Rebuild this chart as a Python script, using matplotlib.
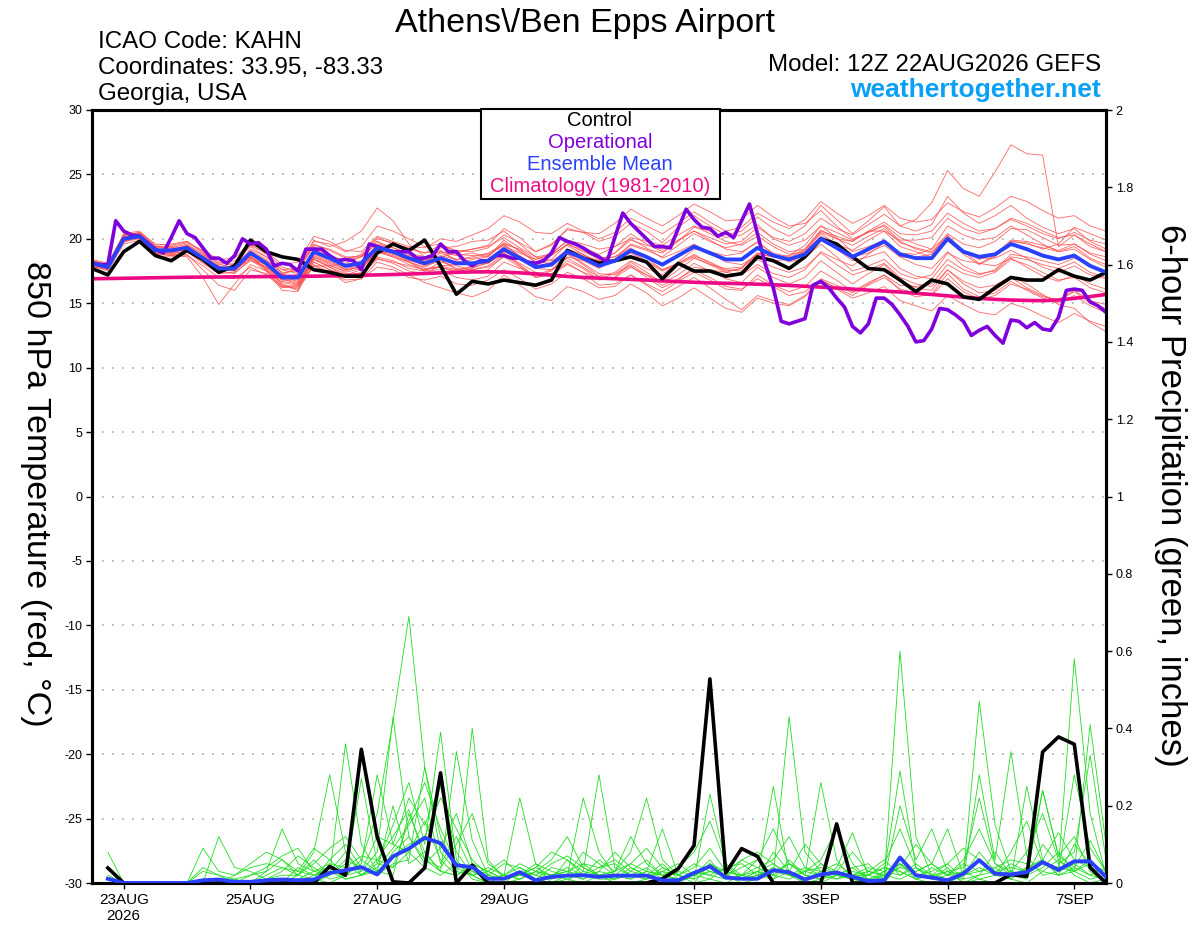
import datetime as dt
import numpy as np
import matplotlib
matplotlib.use("Agg")
from matplotlib import pyplot as plt
from matplotlib.patches import Rectangle

plt.rcParams['font.family'] = ['Liberation Sans', 'DejaVu Sans']
plt.rcParams['axes.unicode_minus'] = False

# ---------------- data ----------------
run_time = dt.datetime(2026, 8, 22, 12)
tick_dates = [dt.datetime(2026, 8, 23), dt.datetime(2026, 8, 25), dt.datetime(2026, 8, 27),
              dt.datetime(2026, 8, 29), dt.datetime(2026, 9, 1), dt.datetime(2026, 9, 3),
              dt.datetime(2026, 9, 5), dt.datetime(2026, 9, 7)]
tick_labels = ['23AUG\n2026', '25AUG', '27AUG', '29AUG', '1SEP', '3SEP', '5SEP', '7SEP']

# 850 hPa temperature, every 6 h from 12Z 22AUG (65 values)
control_t = [17.7, 17.2, 19.0, 19.8, 18.7, 18.3, 19.1, 18.4, 17.4, 17.9,
             19.9, 19.0, 18.6, 18.4, 17.6, 17.4, 17.1, 17.1, 18.9, 19.6,
             19.1, 19.9, 17.9, 15.7, 16.7, 16.5, 16.8, 16.6, 16.4, 16.8,
             19.1, 18.5, 18.1, 18.3, 18.6, 18.2, 16.9, 18.1, 17.5, 17.5,
             17.1, 17.3, 18.6, 18.3, 17.7, 18.6, 20.0, 19.6, 18.6, 17.7,
             17.6, 16.8, 15.9, 16.8, 16.5, 15.5, 15.3, 16.2, 17.0, 16.8,
             16.8, 17.6, 17.1, 16.8, 17.4]

mean_t = [18.1, 17.8, 20.0, 20.2, 19.1, 19.1, 19.3, 18.5, 17.7, 17.7,
          18.9, 18.1, 17.0, 17.0, 19.0, 18.5, 17.9, 18.1, 19.3, 19.0,
          18.5, 18.1, 18.5, 18.1, 18.1, 18.3, 19.2, 18.5, 17.8, 18.0,
          19.0, 18.5, 17.9, 18.3, 19.1, 18.6, 18.0, 18.7, 19.4, 18.9,
          18.4, 18.4, 19.3, 18.7, 18.4, 18.8, 20.0, 19.3, 18.6, 19.2,
          19.8, 18.8, 18.5, 18.5, 20.0, 19.0, 18.6, 18.8, 19.6, 19.2,
          18.7, 18.4, 18.7, 17.9, 17.4]

clim_t = [16.90, 16.92, 16.94, 16.96, 16.98, 17.00, 17.02, 17.03, 17.04, 17.05,
          17.06, 17.07, 17.08, 17.09, 17.10, 17.12, 17.14, 17.17, 17.20, 17.23,
          17.27, 17.31, 17.36, 17.40, 17.43, 17.44, 17.42, 17.36, 17.28, 17.18,
          17.08, 17.00, 16.95, 16.90, 16.85, 16.80, 16.74, 16.68, 16.63, 16.58,
          16.55, 16.52, 16.48, 16.44, 16.38, 16.32, 16.25, 16.18, 16.10, 16.02,
          15.95, 15.87, 15.78, 15.68, 15.58, 15.47, 15.38, 15.30, 15.25, 15.22,
          15.20, 15.25, 15.38, 15.52, 15.68]

# operational run, every 3 h (129 values)
oper_t = [18.1, 18.0, 18.0, 21.4, 20.6, 20.3, 20.2, 19.7, 19.2, 18.9,
          20.1, 21.4, 20.4, 20.1, 19.3, 18.5, 18.5, 18.1, 18.7, 20.0,
          19.6, 19.7, 19.2, 17.9, 18.1, 18.0, 17.5, 19.2, 19.2, 19.2,
          18.7, 18.3, 18.4, 18.3, 17.6, 19.6, 19.4, 19.2, 19.0, 19.0,
          19.0, 18.5, 18.5, 18.7, 19.6, 19.0, 19.0, 18.3, 17.9, 18.3,
          18.3, 18.7, 18.7, 18.5, 18.5, 18.2, 18.1, 18.3, 18.9, 20.1,
          19.8, 19.6, 19.3, 18.9, 18.6, 18.2, 20.1, 22.0, 21.2, 20.6,
          20.0, 19.4, 19.4, 19.3, 20.8, 22.3, 21.5, 20.9, 20.8, 20.2,
          20.5, 20.1, 21.4, 22.7, 20.4, 18.0, 16.2, 13.6, 13.4, 13.6,
          13.8, 16.4, 16.7, 16.2, 15.4, 14.7, 13.2, 12.7, 13.4, 15.4,
          15.4, 14.9, 14.1, 13.2, 12.0, 12.1, 13.0, 14.6, 14.5, 14.1,
          13.6, 12.5, 12.9, 13.2, 12.5, 11.9, 13.7, 13.6, 13.1, 13.5,
          13.0, 12.9, 13.9, 16.0, 16.1, 16.0, 15.1, 14.8, 14.3]

temp_members = [
    [18.3, 18.0, 20.4, 20.6, 19.5, 19.6, 19.8, 19.0, 18.2, 18.0, 19.5, 18.9, 17.8, 17.5, 19.8,
     19.6, 19.0, 19.4, 21.0, 20.6, 20.0, 19.4, 19.6, 19.0, 19.2, 19.5, 20.8, 20.1, 19.0, 19.6,
     20.7, 20.5, 19.8, 20.2, 21.2, 20.6, 19.7, 20.9, 21.8, 21.0, 20.3, 20.6, 21.7, 20.8, 20.2,
     21.0, 22.6, 21.5, 20.4, 21.4, 22.5, 21.0, 20.6, 21.1, 23.3, 22.0, 21.2, 21.8, 22.6, 21.6,
     20.9, 20.4, 20.8, 19.8, 19.2],
    [17.9, 17.5, 19.6, 19.9, 18.6, 18.6, 18.7, 17.9, 17.0, 16.9, 17.8, 17.2, 16.2, 16.4, 17.9,
     17.3, 16.8, 16.9, 17.8, 17.6, 17.0, 16.8, 17.1, 16.5, 16.4, 16.8, 17.6, 16.9, 16.1, 16.5,
     17.4, 16.9, 16.2, 16.3, 17.2, 16.5, 15.9, 16.7, 17.4, 16.8, 16.1, 16.0, 17.2, 16.4, 15.9,
     16.3, 17.5, 16.8, 15.9, 16.6, 17.2, 16.0, 15.5, 15.7, 17.3, 16.1, 15.5, 15.8, 16.7, 16.0,
     15.4, 15.0, 15.6, 14.8, 14.3],
    [18.0, 17.9, 20.2, 20.3, 19.2, 19.0, 19.4, 18.6, 17.9, 17.6, 19.1, 18.4, 17.3, 17.6, 19.4,
     18.7, 18.3, 18.6, 19.8, 19.3, 18.8, 18.2, 18.9, 18.4, 18.6, 18.9, 19.6, 19.2, 18.4, 18.9,
     19.8, 19.3, 18.8, 19.4, 20.4, 19.6, 19.0, 19.9, 20.6, 20.1, 19.6, 19.8, 20.9, 20.1, 19.8,
     20.4, 21.6, 20.8, 20.3, 21.1, 21.9, 21.0, 21.5, 22.8, 25.3, 23.9, 23.3, 25.2, 27.3, 26.6,
     26.5, 19.4, 20.3, 19.6, 19.0],
    [18.2, 17.6, 19.8, 20.0, 18.9, 18.8, 18.6, 17.0, 14.9, 16.5, 18.0, 17.5, 16.6, 16.4, 18.6,
     18.0, 17.4, 17.7, 19.0, 18.6, 18.2, 17.8, 18.4, 17.6, 17.4, 17.6, 18.7, 18.0, 17.0, 17.2,
     18.3, 17.7, 16.8, 17.0, 18.2, 17.4, 16.6, 17.2, 18.1, 17.5, 16.9, 16.6, 17.8, 17.0, 16.5,
     17.0, 18.3, 17.4, 16.5, 17.3, 18.0, 16.8, 16.2, 16.0, 17.6, 16.5, 15.8, 16.0, 17.0, 16.2,
     15.6, 15.2, 15.9, 15.0, 14.6],
    [18.4, 18.1, 20.3, 20.4, 19.4, 19.3, 19.1, 18.3, 17.6, 17.9, 18.5, 18.0, 17.2, 17.8, 19.9,
     19.4, 19.8, 20.6, 22.4, 21.4, 19.6, 18.6, 19.0, 18.7, 18.9, 18.6, 19.9, 19.0, 18.2, 18.7,
     19.6, 19.1, 18.4, 18.6, 19.5, 19.1, 18.6, 19.5, 20.4, 19.8, 19.3, 19.6, 20.5, 19.6, 19.0,
     19.2, 20.7, 20.0, 19.8, 20.6, 20.6, 19.4, 19.0, 18.6, 19.9, 18.8, 18.0, 18.6, 19.8, 19.7,
     19.2, 19.6, 20.9, 20.4, 19.9],
    [17.8, 17.7, 19.9, 20.1, 19.0, 18.9, 19.2, 18.6, 17.9, 17.5, 18.6, 17.6, 16.8, 16.7, 18.5,
     17.8, 17.1, 17.4, 18.6, 18.3, 17.7, 17.5, 18.2, 17.9, 17.6, 17.9, 18.8, 18.1, 17.4, 17.2,
     18.0, 17.4, 16.9, 17.3, 18.0, 17.2, 16.4, 16.9, 17.6, 17.0, 16.3, 16.1, 16.9, 16.3, 15.6,
     15.9, 16.8, 16.1, 15.4, 15.8, 16.3, 15.2, 14.8, 14.4, 15.6, 14.9, 14.3, 14.1, 15.0, 14.6,
     14.0, 13.5, 14.2, 13.6, 13.2],
    [18.0, 17.9, 20.1, 20.0, 19.0, 19.3, 19.6, 18.8, 17.8, 17.8, 18.7, 17.6, 16.0, 15.9, 18.8,
     18.3, 17.6, 17.8, 19.1, 18.8, 18.3, 18.0, 18.6, 18.9, 19.2, 19.4, 20.1, 19.3, 18.6, 18.8,
     19.5, 18.8, 18.0, 18.2, 18.9, 18.2, 17.5, 18.0, 18.6, 18.0, 17.4, 17.2, 18.0, 17.3, 17.0,
     17.6, 19.0, 18.4, 17.9, 18.8, 19.7, 18.9, 18.8, 19.2, 21.0, 20.3, 19.9, 20.1, 21.0, 20.3,
     19.6, 19.0, 19.2, 18.4, 17.8],
    [18.3, 17.8, 19.7, 20.3, 19.3, 19.4, 19.0, 18.2, 17.4, 17.9, 19.2, 18.6, 17.6, 17.3, 19.1,
     18.6, 18.3, 18.8, 20.1, 19.6, 19.3, 18.9, 19.1, 18.3, 18.0, 18.1, 18.9, 17.9, 17.1, 17.5,
     18.6, 18.3, 17.7, 18.4, 19.6, 19.2, 18.9, 19.8, 20.9, 20.6, 20.1, 20.3, 21.1, 20.0, 19.5,
     19.9, 21.0, 20.1, 19.0, 19.4, 19.9, 18.6, 18.0, 17.7, 19.0, 17.9, 17.3, 17.5, 18.6, 18.4,
     18.0, 17.7, 18.2, 17.4, 17.0],
    [17.9, 17.6, 20.0, 20.4, 19.2, 19.0, 19.5, 18.8, 18.1, 17.6, 18.4, 17.5, 16.3, 16.2, 18.2,
     17.6, 17.0, 17.2, 18.4, 18.2, 17.9, 17.6, 17.8, 17.4, 17.7, 18.2, 19.0, 18.6, 18.0, 18.4,
     19.6, 19.0, 18.5, 18.6, 19.3, 18.5, 17.6, 18.1, 18.8, 18.1, 17.5, 17.7, 18.8, 18.6, 18.5,
     19.1, 20.5, 20.0, 19.5, 20.2, 20.8, 19.7, 19.3, 19.0, 20.2, 19.1, 18.5, 18.5, 19.1, 18.5,
     17.8, 17.4, 17.9, 17.2, 16.9],
    [18.2, 18.0, 20.2, 20.0, 18.9, 18.9, 19.3, 18.7, 17.8, 18.1, 19.6, 18.8, 17.3, 16.6, 18.4,
     17.8, 17.3, 17.3, 18.5, 18.1, 17.5, 17.3, 17.9, 18.0, 18.4, 18.6, 19.7, 19.1, 18.2, 18.1,
     18.8, 18.0, 17.1, 17.4, 18.3, 17.7, 17.2, 18.2, 19.2, 19.0, 18.7, 18.9, 19.8, 18.8, 18.2,
     18.5, 19.6, 18.6, 17.5, 17.9, 18.4, 17.3, 16.9, 17.2, 18.9, 18.3, 18.1, 18.7, 19.8, 19.6,
     19.3, 19.0, 19.4, 18.5, 18.0],
    [18.1, 17.9, 20.0, 20.5, 19.6, 19.5, 19.8, 18.9, 18.0, 18.3, 19.4, 18.6, 17.6, 17.7, 19.6,
     19.1, 18.5, 18.7, 20.0, 19.7, 19.2, 18.9, 19.5, 19.1, 19.0, 19.3, 20.3, 19.7, 19.0, 19.5,
     20.8, 20.5, 20.4, 21.2, 22.3, 21.6, 21.0, 21.8, 22.7, 22.1, 21.4, 21.5, 22.6, 21.7, 21.0,
     21.2, 22.2, 21.0, 20.0, 20.5, 21.0, 19.8, 19.2, 18.9, 20.1, 19.0, 18.4, 18.8, 19.9, 19.8,
     19.5, 19.1, 19.6, 18.9, 18.6],
    [18.0, 17.7, 19.8, 20.1, 18.8, 18.7, 19.0, 18.1, 17.3, 17.4, 18.3, 17.8, 16.9, 16.5, 18.2,
     17.6, 17.2, 17.6, 19.0, 18.9, 18.6, 18.3, 18.7, 18.4, 18.5, 18.7, 19.6, 18.6, 17.7, 17.6,
     18.5, 17.8, 17.0, 17.0, 17.8, 17.2, 16.7, 17.6, 18.5, 18.0, 17.7, 17.8, 18.9, 18.6, 18.4,
     18.9, 20.2, 19.6, 19.1, 19.9, 20.6, 19.9, 19.9, 20.1, 21.6, 20.8, 20.4, 20.8, 21.6, 21.2,
     20.6, 20.1, 20.3, 19.4, 19.0],
    [18.3, 18.0, 20.1, 20.2, 19.0, 19.2, 19.5, 18.6, 17.7, 17.5, 18.8, 18.2, 17.1, 17.0, 19.2,
     18.7, 18.0, 18.3, 19.5, 19.1, 18.4, 17.9, 18.3, 17.7, 17.6, 17.8, 18.6, 17.8, 17.0, 17.3,
     18.1, 17.4, 16.4, 16.5, 17.2, 16.4, 15.6, 16.3, 17.0, 16.2, 15.3, 14.5, 15.6, 15.2, 14.9,
     15.6, 16.9, 16.4, 15.8, 16.5, 17.2, 16.4, 16.3, 16.5, 18.0, 17.3, 17.0, 17.4, 18.4, 18.0,
     17.4, 16.8, 17.0, 16.2, 15.8],
    [17.9, 17.8, 20.2, 20.3, 19.1, 19.1, 19.2, 18.4, 17.5, 17.9, 19.0, 18.3, 17.4, 17.5, 19.5,
     19.2, 18.6, 18.6, 19.6, 19.3, 18.9, 18.6, 19.0, 18.8, 18.7, 18.8, 19.5, 18.7, 17.9, 18.1,
     19.1, 18.7, 18.3, 18.9, 19.9, 19.5, 19.2, 19.9, 20.6, 19.9, 19.2, 19.0, 19.7, 18.9, 18.6,
     19.2, 20.6, 20.2, 19.8, 20.6, 21.3, 20.4, 20.3, 20.6, 22.0, 21.2, 20.6, 20.8, 21.5, 21.0,
     20.4, 20.0, 20.5, 19.9, 19.6],
    [18.1, 17.6, 19.9, 20.1, 19.0, 18.9, 19.0, 18.3, 17.5, 17.3, 18.4, 17.8, 16.9, 16.8, 18.7,
     18.2, 17.7, 17.9, 19.0, 18.6, 18.0, 17.6, 17.9, 17.6, 17.8, 18.1, 19.0, 18.4, 17.7, 18.2,
     19.2, 18.8, 18.2, 18.4, 19.0, 18.3, 17.6, 18.1, 18.7, 18.2, 17.6, 17.5, 18.4, 17.8, 17.4,
     17.8, 18.9, 18.0, 17.2, 17.6, 18.1, 17.0, 16.5, 16.3, 17.6, 16.7, 16.2, 16.4, 17.1, 16.5,
     15.7, 14.9, 14.6, 13.5, 12.8],
    [18.2, 17.9, 20.3, 20.4, 19.3, 19.2, 19.4, 18.5, 17.8, 17.8, 18.9, 18.0, 16.7, 16.5, 18.6,
     18.1, 17.6, 17.8, 19.0, 18.7, 18.2, 17.7, 17.8, 17.5, 17.9, 18.4, 19.4, 18.9, 18.4, 18.8,
     19.9, 19.6, 19.2, 19.4, 20.0, 19.3, 18.5, 19.0, 19.6, 18.9, 18.2, 18.0, 18.7, 18.3, 18.4,
     19.0, 20.4, 19.6, 18.6, 18.9, 19.5, 18.6, 18.6, 18.8, 20.4, 19.6, 19.3, 19.8, 20.8, 20.7,
     20.1, 19.5, 19.6, 18.8, 18.3],
    [18.0, 17.7, 19.9, 20.2, 19.0, 18.8, 19.1, 18.4, 17.6, 17.7, 18.6, 17.9, 16.5, 16.0, 18.0,
     17.4, 16.6, 16.9, 18.2, 17.8, 17.2, 16.6, 16.2, 15.8, 15.5, 16.0, 17.2, 16.4, 15.5, 15.2,
     16.3, 15.9, 15.3, 15.6, 16.5, 15.8, 14.8, 15.4, 16.2, 15.4, 14.6, 14.3, 15.4, 15.0, 14.8,
     15.5, 16.8, 16.2, 15.6, 16.4, 17.0, 16.1, 15.8, 15.6, 16.9, 15.9, 15.3, 15.6, 16.5, 16.1,
     15.5, 15.3, 16.0, 15.2, 14.9],
    [18.2, 18.0, 20.3, 20.5, 19.4, 19.4, 19.7, 19.1, 18.4, 18.5, 19.7, 19.0, 18.0, 18.2, 20.2,
     19.8, 19.1, 19.0, 20.2, 19.8, 19.4, 19.3, 20.0, 19.8, 20.3, 20.8, 21.8, 21.3, 20.5, 20.4,
     21.2, 20.6, 20.0, 20.5, 21.6, 21.0, 20.4, 21.2, 22.1, 21.3, 20.6, 20.9, 22.0, 21.3, 20.8,
     21.5, 22.9, 22.0, 21.2, 21.8, 22.6, 21.6, 21.3, 21.5, 22.8, 22.1, 21.7, 22.4, 23.3, 22.9,
     22.2, 21.6, 21.8, 21.0, 20.6],
    [18.1, 17.8, 20.1, 20.3, 19.2, 19.0, 19.3, 18.5, 17.6, 17.5, 18.6, 17.7, 16.4, 16.3, 18.4,
     17.9, 17.5, 17.9, 19.3, 19.1, 18.7, 18.5, 19.3, 19.4, 19.8, 19.9, 20.6, 19.6, 18.6, 18.3,
     18.9, 18.1, 17.3, 17.2, 17.9, 17.0, 16.2, 16.8, 17.8, 17.6, 17.4, 17.7, 18.9, 18.6, 18.7,
     19.5, 21.0, 20.5, 19.9, 20.5, 21.1, 20.1, 19.6, 19.2, 20.3, 19.0, 18.1, 17.9, 18.5, 17.8,
     17.1, 16.7, 17.2, 16.5, 16.1],
    [18.3, 17.9, 20.0, 20.1, 18.9, 18.7, 18.8, 17.6, 16.4, 16.0, 17.6, 17.3, 16.3, 16.1, 17.9,
     17.9, 18.1, 18.6, 19.8, 19.0, 18.2, 17.5, 17.6, 17.0, 16.8, 17.1, 18.2, 17.7, 17.2, 17.6,
     18.8, 18.6, 18.3, 18.9, 20.1, 19.8, 19.5, 20.3, 21.0, 20.4, 19.8, 19.5, 20.2, 19.4, 18.8,
     19.0, 20.1, 19.2, 18.3, 18.6, 19.0, 17.7, 17.1, 16.9, 18.4, 17.6, 17.2, 17.6, 18.8, 18.6,
     18.3, 18.0, 18.5, 17.9, 17.5],
]

# 6-hour precipitation (inches), every 6 h from 18Z 22AUG (64 values)
control_p = [0.039, 0, 0, 0, 0, 0, 0, 0, 0, 0, 0, 0, 0, 0, 0.043, 0.02,
             0.346, 0.119, 0.003, 0, 0.039, 0.285, 0, 0.046, 0, 0, 0, 0, 0, 0, 0, 0,
             0, 0, 0, 0.011, 0.037, 0.097, 0.528, 0.026, 0.089, 0.069, 0, 0, 0, 0, 0.153, 0,
             0, 0, 0, 0, 0, 0, 0, 0, 0, 0.022, 0.017, 0.339, 0.378, 0.359, 0.04, 0]

mean_p = [0.011, 0, 0, 0, 0, 0, 0.007, 0.009, 0.003, 0.003, 0.007, 0.009, 0.007, 0.009, 0.026, 0.033,
          0.041, 0.022, 0.069, 0.089, 0.117, 0.103, 0.046, 0.041, 0.011, 0.011, 0.028, 0.007, 0.016, 0.019, 0.02, 0.016,
          0.019, 0.019, 0.019, 0.007, 0.007, 0.026, 0.043, 0.014, 0.011, 0.011, 0.033, 0.028, 0.009, 0.022, 0.027, 0.016,
          0.005, 0.007, 0.066, 0.02, 0.014, 0.007, 0.024, 0.059, 0.024, 0.022, 0.028, 0.054, 0.034, 0.056, 0.056, 0.016]

precip_members = [
    [0.08, 0, 0, 0, 0, 0, 0, 0, 0, 0, 0, 0, 0.02, 0.05, 0.09, 0.12,
     0.06, 0.18, 0.42, 0.69, 0.30, 0.12, 0.04, 0.02, 0, 0, 0.03, 0.01, 0, 0, 0.05, 0.02,
     0, 0, 0.01, 0.03, 0, 0, 0.05, 0.02, 0, 0.01, 0.08, 0.03, 0, 0, 0.02, 0.04,
     0.01, 0, 0.05, 0.01, 0, 0, 0.02, 0.08, 0.03, 0.01, 0, 0.03, 0.06, 0.02, 0, 0.01],
    [0, 0, 0, 0, 0, 0, 0.09, 0.03, 0.02, 0.04, 0.05, 0.04, 0.02, 0.08, 0.28, 0.08,
     0.02, 0.05, 0.15, 0.26, 0.10, 0.39, 0.06, 0.01, 0, 0.02, 0.22, 0.05, 0, 0.01, 0.03, 0.02,
     0.01, 0.02, 0.04, 0.01, 0, 0.02, 0.06, 0.01, 0.02, 0.03, 0.01, 0.06, 0.02, 0.26, 0.06, 0.01,
     0, 0.02, 0.05, 0.02, 0.01, 0.04, 0, 0.02, 0.08, 0.02, 0.01, 0.24, 0.07, 0.12, 0.03, 0],
    [0, 0, 0, 0, 0, 0, 0, 0.12, 0.04, 0.03, 0.01, 0.02, 0.02, 0.06, 0.02, 0.36,
     0.10, 0.03, 0.02, 0.18, 0.08, 0.03, 0.34, 0.11, 0.02, 0.05, 0.04, 0.01, 0, 0.02, 0.22, 0.08,
     0.02, 0.01, 0.03, 0.14, 0.02, 0, 0.01, 0, 0.02, 0.01, 0.25, 0.02, 0, 0.01, 0.04, 0.13,
     0.02, 0.01, 0.60, 0.12, 0.02, 0.03, 0, 0.01, 0.02, 0.01, 0.04, 0.06, 0.02, 0.03, 0.41, 0.10],
    [0.02, 0, 0, 0, 0, 0, 0.03, 0.02, 0, 0.02, 0.03, 0.14, 0.05, 0.03, 0.04, 0.02,
     0.27, 0.05, 0.04, 0.08, 0.16, 0.06, 0.02, 0.40, 0.06, 0.01, 0.03, 0.02, 0.01, 0.06, 0.03, 0.28,
     0.04, 0.02, 0.01, 0.03, 0.02, 0.01, 0.23, 0.05, 0.01, 0.03, 0.02, 0.01, 0.03, 0.04, 0.02, 0.01,
     0, 0.03, 0.29, 0.04, 0.01, 0.02, 0.03, 0.01, 0, 0.02, 0.03, 0.05, 0.04, 0.58, 0.18, 0.02],
    [0, 0, 0, 0, 0, 0, 0, 0, 0.02, 0.05, 0.08, 0.06, 0.03, 0.09, 0.06, 0.02,
     0.05, 0.28, 0.10, 0.22, 0.15, 0.25, 0.08, 0.02, 0, 0, 0.01, 0.03, 0.02, 0.01, 0, 0.02,
     0.03, 0.08, 0.22, 0.06, 0.02, 0.01, 0.03, 0.02, 0.04, 0.06, 0.02, 0.43, 0.08, 0.03, 0.02, 0.04,
     0.05, 0.01, 0.20, 0.06, 0.14, 0.03, 0.02, 0.47, 0.15, 0.03, 0.02, 0.10, 0.05, 0.08, 0.33, 0.06],
    [0, 0, 0, 0, 0, 0, 0.04, 0.02, 0.01, 0, 0.01, 0.03, 0.07, 0.04, 0.01, 0.02,
     0.03, 0.08, 0.43, 0.12, 0.05, 0.09, 0.18, 0.05, 0.03, 0.06, 0.02, 0.01, 0.04, 0.03, 0.01, 0.03,
     0.08, 0.04, 0.02, 0.01, 0.03, 0.02, 0.01, 0.04, 0.05, 0.02, 0.01, 0.03, 0.10, 0.05, 0.02, 0.01,
     0.02, 0.04, 0.03, 0.01, 0.02, 0.05, 0.01, 0.28, 0.06, 0.34, 0.07, 0.02, 0.03, 0.05, 0.02, 0.04],
    [0, 0, 0, 0, 0, 0, 0, 0, 0, 0, 0, 0, 0.01, 0.03, 0.02, 0.05,
     0.02, 0.04, 0.09, 0.15, 0.22, 0.05, 0.12, 0.03, 0.01, 0.02, 0.04, 0.02, 0.05, 0.07, 0.04, 0.02,
     0.03, 0.05, 0.03, 0.02, 0.01, 0.03, 0.02, 0.01, 0.06, 0.04, 0.02, 0.05, 0.03, 0.06, 0.14, 0.05,
     0.01, 0.02, 0.04, 0.03, 0.05, 0.14, 0.02, 0.03, 0.04, 0.01, 0.25, 0.06, 0.02, 0.04, 0.11, 0.03],
    [0, 0, 0, 0, 0, 0, 0, 0, 0.01, 0.02, 0.04, 0.07, 0.09, 0.03, 0.05, 0.04,
     0.07, 0.06, 0.12, 0.19, 0.06, 0.03, 0.02, 0.05, 0.03, 0.01, 0.02, 0.05, 0.03, 0.02, 0.08, 0.05,
     0.02, 0.05, 0.09, 0.04, 0.02, 0.04, 0.09, 0.03, 0.02, 0.01, 0.03, 0.02, 0.01, 0.05, 0.03, 0.02,
     0.04, 0.03, 0.05, 0.02, 0.03, 0.05, 0.09, 0.06, 0.02, 0.05, 0.03, 0.24, 0.07, 0.04, 0.02, 0.01],
    [0, 0, 0, 0, 0, 0, 0, 0, 0, 0, 0.02, 0.04, 0.03, 0.02, 0.03, 0.01,
     0.02, 0.03, 0.07, 0.10, 0.12, 0.22, 0.14, 0.06, 0.02, 0.01, 0.03, 0.01, 0.02, 0.03, 0.05, 0.04,
     0.06, 0.03, 0.02, 0.05, 0.01, 0.02, 0.04, 0.03, 0.06, 0.08, 0.05, 0.02, 0.04, 0.03, 0.01, 0.02,
     0.03, 0.06, 0.02, 0.04, 0.01, 0.03, 0.04, 0.22, 0.05, 0.02, 0.04, 0.06, 0.13, 0.06, 0.04, 0.02],
    [0, 0, 0, 0, 0, 0, 0, 0, 0, 0, 0, 0, 0, 0, 0.02, 0.06,
     0.04, 0.02, 0.05, 0.06, 0.30, 0.08, 0.03, 0.02, 0.04, 0.02, 0.01, 0.03, 0.02, 0.04, 0.02, 0.01,
     0.01, 0.04, 0.02, 0.03, 0.05, 0.02, 0.03, 0.02, 0.01, 0.02, 0.04, 0.02, 0.01, 0.03, 0.05, 0.02,
     0.01, 0.03, 0.02, 0.05, 0.02, 0.01, 0.02, 0.04, 0.02, 0.03, 0.02, 0.04, 0.08, 0.03, 0.01, 0.02],
    [0, 0, 0, 0, 0, 0, 0, 0, 0, 0, 0, 0, 0.04, 0.02, 0.03, 0.08,
     0.03, 0.12, 0.10, 0.08, 0.04, 0.02, 0.05, 0.02, 0.03, 0.01, 0.02, 0.04, 0.08, 0.06, 0.02, 0.04,
     0.05, 0.02, 0.01, 0.04, 0.02, 0.05, 0.03, 0.02, 0.01, 0.03, 0.05, 0.02, 0.03, 0.02, 0.01, 0.03,
     0.02, 0.04, 0.03, 0.01, 0.04, 0.02, 0.05, 0.03, 0.04, 0.06, 0.05, 0.03, 0.02, 0.10, 0.05, 0.03],
    [0, 0, 0, 0, 0, 0, 0, 0, 0, 0, 0, 0, 0, 0.01, 0, 0.02,
     0.06, 0.03, 0.20, 0.05, 0.08, 0.03, 0.02, 0.04, 0.01, 0.02, 0.05, 0.03, 0.01, 0.02, 0.01, 0.03,
     0.02, 0.01, 0.03, 0.02, 0.01, 0.03, 0.02, 0.04, 0.01, 0.02, 0.03, 0.05, 0.02, 0.01, 0.02, 0.01,
     0.03, 0.02, 0.01, 0.03, 0.05, 0.02, 0.01, 0.02, 0.03, 0.04, 0.03, 0.05, 0.04, 0.03, 0.06, 0.02],
    [0, 0, 0, 0, 0, 0, 0, 0, 0, 0, 0.03, 0.06, 0.02, 0.01, 0.06, 0.10,
     0.04, 0.02, 0.08, 0.12, 0.06, 0.04, 0.10, 0.18, 0.05, 0.02, 0.01, 0.03, 0.06, 0.12, 0.04, 0.02,
     0.01, 0.03, 0.06, 0.02, 0.04, 0.08, 0.16, 0.05, 0.02, 0.04, 0.06, 0.12, 0.04, 0.02, 0.03, 0.08,
     0.03, 0.02, 0.04, 0.10, 0.05, 0.02, 0.06, 0.14, 0.05, 0.03, 0.08, 0.18, 0.06, 0.03, 0.05, 0.02],
    [0, 0, 0, 0, 0, 0, 0, 0, 0, 0, 0, 0, 0, 0.02, 0.04, 0.01,
     0.02, 0.06, 0.04, 0.16, 0.26, 0.14, 0.05, 0.03, 0.02, 0.01, 0.02, 0.04, 0.02, 0.03, 0.02, 0.06,
     0.03, 0.12, 0.05, 0.02, 0.01, 0.02, 0.05, 0.03, 0.02, 0.06, 0.14, 0.05, 0.02, 0.01, 0.03, 0.02,
     0.02, 0.05, 0.14, 0.04, 0.02, 0.01, 0.03, 0.06, 0.02, 0.08, 0.16, 0.05, 0.03, 0.28, 0.09, 0.03],
]

# ---------------- figure ----------------
W, H = 1200, 927
hours_t = np.arange(len(control_t)) * 6
hours_p = (np.arange(len(control_p)) + 1) * 6
hours_op = np.arange(len(oper_t)) * 3
tick_hours = [(d - run_time).total_seconds() / 3600 for d in tick_dates]


def fx(x):
    return x / W


def fy(y):
    return 1 - y / H


fig = plt.figure(figsize=(12, 9.27), dpi=100)
ax = fig.add_axes([fx(92), fy(883), fx(1106) - fx(92), fy(110) - fy(883)])
ax2 = ax.twinx()

for m in temp_members:
    ax.plot(hours_t, m, color='#ff4a4a', lw=0.6, alpha=0.85, zorder=1)
ax.plot(hours_t, clim_t, color='#ee0a84', lw=2.6, zorder=3)
ax.plot(hours_t, control_t, color='black', lw=2.6, zorder=4)
ax.plot(hours_op, oper_t, color='#8000dc', lw=2.6, zorder=5)
ax.plot(hours_t, mean_t, color='#2a40ff', lw=2.8, zorder=6)

for m in precip_members:
    ax2.plot(hours_p, m, color='#22dd22', lw=0.6, zorder=1)
ax2.plot(hours_p, control_p, color='black', lw=2.6, zorder=4)
ax2.plot(hours_p, mean_p, color='#2a40ff', lw=2.8, zorder=6)

ax.set_xlim(0, 384)
ax.set_ylim(-30, 30)
ax2.set_ylim(0, 2)
ax.set_yticks(np.arange(-30, 31, 5))
ax2.set_yticks(np.arange(0, 2.01, 0.2))
ax2.set_yticklabels(['%g' % round(v, 1) for v in np.arange(0, 2.01, 0.2)])
ax.set_xticks(tick_hours)
ax.set_xticklabels(tick_labels, fontsize=11)
ax.tick_params(axis='y', labelsize=9, length=4, width=1, pad=3)
ax2.tick_params(axis='y', labelsize=9, length=4, width=1, pad=3)
ax.tick_params(axis='x', length=4, width=1, pad=3)
ax.yaxis.grid(True, color='#aaaaaa', linestyle=(0, (1, 5)), lw=1.2)
for a in (ax, ax2):
    for s in a.spines.values():
        s.set_linewidth(2.2)

# header texts
fig.text(fx(585), fy(32), 'Athens\\/Ben Epps Airport', fontsize=24.5, ha='center', va='baseline')
fig.text(fx(98), fy(48), 'ICAO Code: KAHN', fontsize=17.4, ha='left', va='baseline')
fig.text(fx(98), fy(74), 'Coordinates: 33.95, -83.33', fontsize=17.4, ha='left', va='baseline')
fig.text(fx(98), fy(100), 'Georgia, USA', fontsize=17.4, ha='left', va='baseline')
fig.text(fx(1101), fy(71), 'Model: 12Z 22AUG2026 GEFS', fontsize=17.4, ha='right', va='baseline')
fig.text(fx(1101), fy(97), 'weathertogether.net', fontsize=19, fontweight='bold',
         color='#0aa0f5', ha='right', va='baseline')

# axis labels
fig.text(fx(35), fy(494), '850 hPa Temperature (red, °C)', fontsize=24.5,
         rotation=270, ha='center', va='center')
fig.text(fx(1170), fy(495), '6-hour Precipitation (green, inches)', fontsize=25,
         rotation=270, ha='center', va='center')

# legend box
box = Rectangle((fx(481), fy(199)), fx(720) - fx(481), fy(109) - fy(199),
                transform=fig.transFigure, facecolor='white', edgecolor='black',
                lw=1.5, zorder=10)
fig.patches.append(box)
legend_items = [('Control', 'black'), ('Operational', '#8000dc'),
                ('Ensemble Mean', '#2a40ff'), ('Climatology (1981-2010)', '#ee0a84')]
for k, (txt, col) in enumerate(legend_items):
    fig.text(fx(600), fy(121 + 21.7 * k), txt, color=col, fontsize=14.5,
             ha='center', va='center', zorder=11)

fig.savefig('out.png', dpi=100, facecolor='white')
